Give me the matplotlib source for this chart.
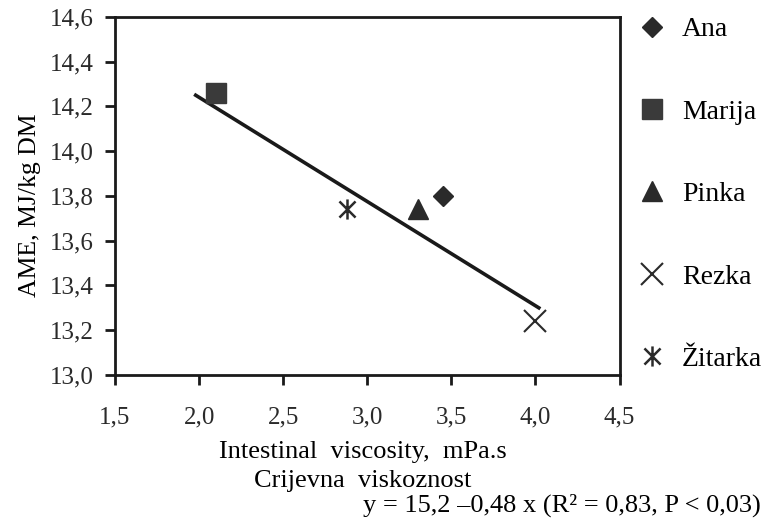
import matplotlib

matplotlib.use("Agg")
import matplotlib.pyplot as plt
from matplotlib.path import Path

plt.rcParams["font.family"] = ["Liberation Serif", "DejaVu Serif"]

varieties = ["Ana", "Marija", "Pinka", "Rezka", "Žitarka"]
viscosity = [3.45, 2.10, 3.30, 4.00, 2.88]
ame = [13.80, 14.26, 13.74, 13.24, 13.74]

fit_x = [1.98, 4.02]
fit_y = [14.25, 13.30]

x_ticks = [1.5, 2.0, 2.5, 3.0, 3.5, 4.0, 4.5]
y_ticks = [13.0, 13.2, 13.4, 13.6, 13.8, 14.0, 14.2, 14.4, 14.6]

asterisk = Path(
    [(0, -1), (0, 1), (-0.8, -0.8), (0.8, 0.8), (-0.8, 0.8), (0.8, -0.8)],
    [Path.MOVETO, Path.LINETO, Path.MOVETO, Path.LINETO, Path.MOVETO, Path.LINETO],
)
styles = {
    "Ana": dict(marker="D", ms=10.5, color="#2a2a2a"),
    "Marija": dict(marker="s", ms=14.5, color="#3a3a3a"),
    "Pinka": dict(marker="^", ms=15, color="#2a2a2a"),
    "Rezka": dict(marker="x", ms=15.5, color="#2a2a2a", mew=1.5),
    "Žitarka": dict(marker=asterisk, ms=14.5, color="#2a2a2a", mew=1.8),
}


def fmt(v):
    return f"{v:.1f}".replace(".", ",")


fig = plt.figure(figsize=(7.68, 5.32), dpi=100)
ax = fig.add_axes([0.1497, 0.2952, 0.657, 0.673])

ax.plot(fit_x, fit_y, color="#1a1a1a", linewidth=2.6, zorder=2)
for name, x, y in zip(varieties, viscosity, ame):
    ax.plot([x], [y], linestyle="none", label=name, zorder=3, **styles[name])

ax.set_xlim(1.5, 4.5)
ax.set_ylim(13.0, 14.6)
ax.set_xticks(x_ticks)
ax.set_xticklabels([fmt(v) for v in x_ticks])
ax.set_yticks(y_ticks)
ax.set_yticklabels([fmt(v) for v in y_ticks])
ax.tick_params(direction="out", length=7, width=2, labelsize=18,
               colors="#1a1a1a", labelcolor="#2a2a2a")
ax.tick_params(axis="x", pad=16)
ax.tick_params(axis="y", pad=8)
for spine in ax.spines.values():
    spine.set_linewidth(2)
    spine.set_color("#1a1a1a")

ax.set_ylabel("AME, MJ/kg DM", fontsize=18.5)
ax.yaxis.set_label_coords(-0.146, 0.474)
ax.set_xlabel("Intestinal  viscosity,  mPa.s\nCrijevna  viskoznost", fontsize=19,
              linespacing=1.4)
ax.xaxis.set_label_coords(0.491, -0.185)
fig.text(0.732, 0.051, "y = 15,2 –0,48 x (R² = 0,83, P < 0,03)",
         fontsize=19, ha="center", va="center")

ax.legend(loc="upper left", bbox_to_anchor=(1.032, 1.0), frameon=False,
          fontsize=20, labelspacing=2.05, handletextpad=0.47, handlelength=1.2,
          borderaxespad=0, borderpad=0)

fig.savefig("out.png", dpi=100)
